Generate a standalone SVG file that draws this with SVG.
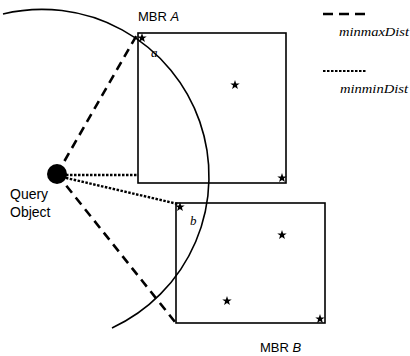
<svg xmlns="http://www.w3.org/2000/svg" width="410" height="356" viewBox="0 0 410 356">
<style>
.box{fill:none;stroke:#000;stroke-width:1.6}
.arc{fill:none;stroke:#000;stroke-width:1.6}
.dash{stroke:#000;stroke-width:2.6;stroke-dasharray:9 6;fill:none}
.dot{stroke:#000;stroke-width:2.4;stroke-dasharray:2.5 1.5;fill:none}
.lab{font-family:"Liberation Sans",Arial,sans-serif;font-size:13px;fill:#000}
.it{font-style:italic}
.ser{font-family:"Liberation Serif","Times New Roman",serif;font-style:italic;font-size:12px;fill:#000}
.let{font-size:13px}
</style>
<defs>
<path id="star" transform="scale(1.1)" d="M0,-4.5 L1.06,-1.46 L4.28,-1.39 L1.71,0.56 L2.65,3.64 L0,1.8 L-2.65,3.64 L-1.71,0.56 L-4.28,-1.39 L-1.06,-1.46 Z" fill="#000"/>
</defs>
<rect width="410" height="356" fill="#fff"/>
<path class="arc" d="M3,14 A167,167 0 0 1 112,328"/>
<g id="mbrA">
<rect class="box" x="138" y="33" width="148" height="150"/>
<text class="lab" x="138" y="21">MBR <tspan class="it">A</tspan></text>
<text class="ser let" x="151" y="57">a</text>
<use href="#star" x="142" y="38"/>
<use href="#star" x="235" y="85"/>
<use href="#star" x="282" y="178"/>
</g>
<g id="mbrB">
<rect class="box" x="176" y="203" width="149" height="120"/>
<text class="lab" x="260" y="352">MBR <tspan class="it">B</tspan></text>
<text class="ser let" x="190" y="225">b</text>
<use href="#star" x="180" y="207"/>
<use href="#star" x="282" y="235"/>
<use href="#star" x="227" y="301"/>
<use href="#star" x="320" y="319"/>
</g>
<g id="connectors">
<line class="dash" x1="57" y1="174" x2="138" y2="33"/>
<line class="dash" x1="57" y1="174" x2="175" y2="322"/>
<line class="dot" x1="62" y1="175" x2="138" y2="175"/>
<line class="dot" x1="62" y1="177" x2="178" y2="204"/>
</g>
<g id="query">
<circle cx="57" cy="174" r="10" fill="#000"/>
<text class="lab" x="10" y="199" style="font-size:14px">Query</text>
<text class="lab" x="10" y="217" style="font-size:14px">Object</text>
</g>
<g id="legend">
<line class="dash" x1="323" y1="14" x2="365" y2="14" style="stroke-dasharray:10 6"/>
<text class="ser" x="339" y="36" textLength="70" lengthAdjust="spacingAndGlyphs">minmaxDist</text>
<line class="dot" x1="323" y1="71" x2="367" y2="71" style="stroke-width:1.8"/>
<text class="ser" x="340" y="93" textLength="68" lengthAdjust="spacingAndGlyphs">minminDist</text>
</g>
</svg>
